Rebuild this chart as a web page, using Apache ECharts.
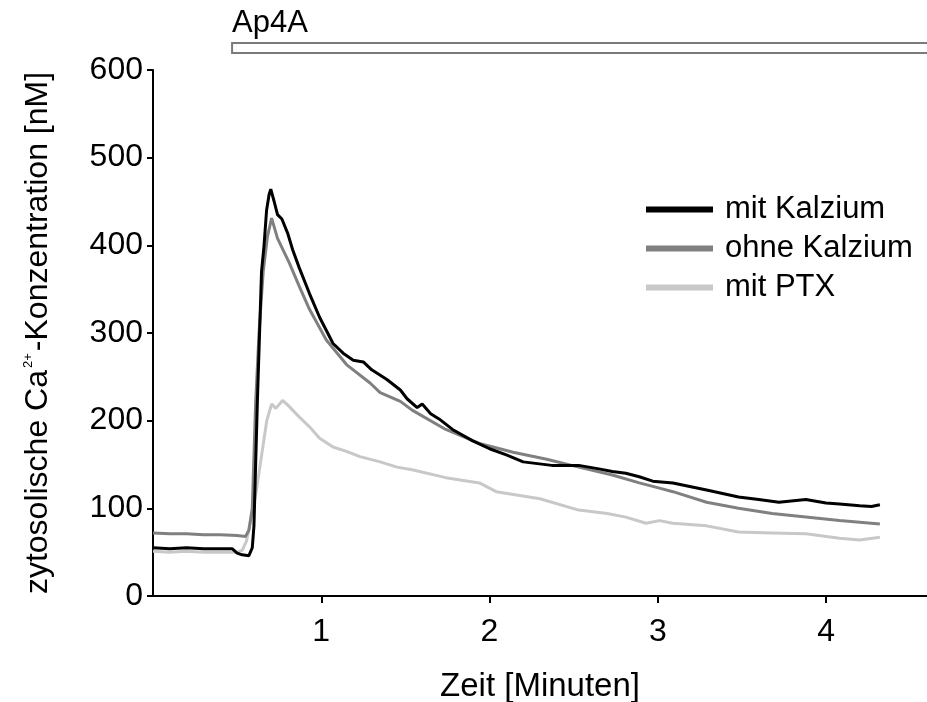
<!DOCTYPE html>
<html>
<head>
<meta charset="utf-8">
<script src="https://cdn.jsdelivr.net/npm/echarts@6/dist/echarts.min.js"></script>
<style>html,body{margin:0;padding:0;background:#fff;}#c{width:927px;height:702px;}</style>
</head>
<body>
<div id="c"></div>
<script>
// Data (time in minutes, concentration in nM)
const seriesNames = ['mit Kalzium', 'ohne Kalzium', 'mit PTX'];
const xTickValues = [1, 2, 3, 4];
const yTickMax = 600;
const ap4aStart = 0.47;
const ap4aLabel = 'Ap4A';

const mitKalzium = [[0,55],[0.1,54],[0.2,55],[0.3,54],[0.4,54],[0.47,54],[0.5,49],[0.53,47],[0.57,46],[0.59,55],[0.6,80],[0.62,220],[0.645,370],[0.66,400],[0.675,440],[0.69,458],[0.70,464],[0.72,450],[0.74,435],[0.766,430],[0.8,414],[0.83,395],[0.87,374],[0.93,345],[0.99,318],[1.07,288],[1.13,277],[1.19,269],[1.25,267],[1.30,258],[1.39,247],[1.47,235],[1.51,225],[1.57,215],[1.60,219],[1.65,208],[1.70,202],[1.78,190],[1.90,177],[2.0,168],[2.10,161],[2.20,153],[2.37,149],[2.53,149],[2.65,145],[2.73,142],[2.81,140],[2.89,136],[2.97,131],[3.09,129],[3.29,121],[3.48,113],[3.60,110],[3.72,107],[3.88,110],[4.0,106],[4.08,105],[4.2,103],[4.27,102],[4.32,104]];
const ohneKalzium = [[0,72],[0.1,71],[0.2,71],[0.3,70],[0.4,70],[0.5,69],[0.55,68],[0.57,75],[0.59,100],[0.61,220],[0.63,300],[0.655,370],[0.68,410],[0.705,431],[0.74,408],[0.81,380],[0.87,353],[0.93,327],[1.03,292],[1.15,264],[1.29,243],[1.35,232],[1.47,222],[1.54,212],[1.74,190],[1.94,174],[2.14,164],[2.34,156],[2.53,147],[2.73,138],[2.89,129],[3.01,123],[3.09,119],[3.29,107],[3.48,100],[3.68,94],[3.88,90],[4.08,86],[4.32,82]];
const mitPTX = [[0,51],[0.1,50],[0.2,51],[0.3,50],[0.4,50],[0.5,50],[0.53,52],[0.556,63],[0.59,95],[0.615,121],[0.635,147],[0.676,200],[0.705,219],[0.73,214],[0.77,223],[0.8,218],[0.87,204],[0.93,193],[0.99,180],[1.07,170],[1.15,165],[1.23,159],[1.35,153],[1.45,147],[1.54,144],[1.74,135],[1.94,129],[2.04,119],[2.30,111],[2.53,98],[2.7,94],[2.81,90],[2.93,83],[3.01,86],[3.09,83],[3.29,80],[3.48,73],[3.68,72],[3.88,71],[4.08,66],[4.2,64],[4.32,67]];

const colors = {'mit Kalzium':'#000000','ohne Kalzium':'#808080','mit PTX':'#c8c8c8'};
const dataByName = {'mit Kalzium':mitKalzium,'ohne Kalzium':ohneKalzium,'mit PTX':mitPTX};

const FONT = 'Liberation Sans, Arial, sans-serif';
const chart = echarts.init(document.getElementById('c'), null, {renderer:'canvas'});

const drawOrder = ['mit PTX','ohne Kalzium','mit Kalzium'];
chart.setOption({
  animation:false,
  backgroundColor:'#fff',
  grid:{left:153, right:0, top:70, bottom:106, containLabel:false, outerBoundsMode:'none'},
  legend:{
    data:seriesNames.map(n=>({name:n, icon:'rect'})),
    orient:'vertical', left:641, top:189,
    itemWidth:67, itemHeight:6, itemGap:8,
    textStyle:{fontFamily:FONT, fontSize:31, color:'#000', padding:[0,0,0,7]},
    selectedMode:false
  },
  xAxis:{
    type:'value', min:0, max:4.6,
    axisLine:{show:true, lineStyle:{color:'#000', width:2}},
    axisTick:{show:true, length:7, lineStyle:{color:'#000', width:2}, customValues:xTickValues},
    axisLabel:{fontFamily:FONT, fontSize:32, color:'#000', margin:20, customValues:xTickValues},
    splitLine:{show:false},
    name:'Zeit [Minuten]', nameLocation:'middle', nameGap:74,
    nameTextStyle:{fontFamily:FONT, fontSize:33, color:'#000'}
  },
  yAxis:{
    type:'value', min:0, max:yTickMax, interval:100,
    axisLine:{show:true, lineStyle:{color:'#000', width:2}},
    axisTick:{show:true, length:6, lineStyle:{color:'#000', width:2}},
    axisLabel:{fontFamily:FONT, fontSize:32, color:'#000', margin:10},
    splitLine:{show:false},
    name:'{n|zytosolische Ca}{s|2+}{n|-Konzentration [nM]}',
    nameLocation:'middle', nameGap:98, nameRotate:90,
    nameTextStyle:{
      rich:{
        n:{fontFamily:FONT, fontSize:32, color:'#000'},
        s:{fontFamily:FONT, fontSize:13, color:'#000', padding:[0,2,20,2]}
      }
    }
  },
  series:drawOrder.map(n=>({
    name:n, type:'line', data:dataByName[n], showSymbol:false, smooth:false,
    lineStyle:{color:colors[n], width:3}, itemStyle:{color:colors[n]},
    emphasis:{disabled:true}
  }))
});

// Ap4A application bar above the plot
const px = chart.convertToPixel({xAxisIndex:0}, ap4aStart);
chart.setOption({
  graphic:[
    {type:'rect', shape:{x:px, y:43, width:1000, height:10}, style:{fill:'#fff', stroke:'#7a7a7a', lineWidth:2}},
    {type:'text', x:px, y:8, style:{text:ap4aLabel, font:'31px Liberation Sans, Arial, sans-serif', fill:'#000'}}
  ]
});
</script>
</body>
</html>
